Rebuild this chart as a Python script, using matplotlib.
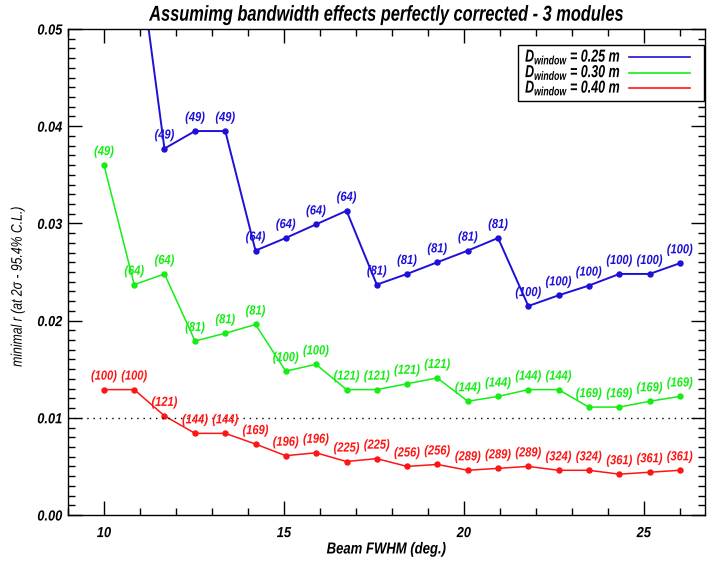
import matplotlib
matplotlib.use("Agg")
import matplotlib.pyplot as plt
from matplotlib.ticker import MultipleLocator
from matplotlib.patheffects import AbstractPathEffect
from matplotlib.transforms import Affine2D
from matplotlib.lines import Line2D
from matplotlib.patches import Rectangle

# Beam widths (deg.) at which the minimal r was computed
fwhm = [10.00, 10.84, 11.68, 12.53, 13.37, 14.21, 15.05, 15.89, 16.74, 17.58,
        18.42, 19.26, 20.11, 20.95, 21.79, 22.63, 23.47, 24.32, 25.16, 26.00]

# Minimal r at 2 sigma for each window diameter
r_025 = [0.0750, 0.0612, 0.0377, 0.0395, 0.0395, 0.0272, 0.0285, 0.0299, 0.0313, 0.0237,
         0.0248, 0.0260, 0.0272, 0.0285, 0.0215, 0.0226, 0.0236, 0.0248, 0.0248, 0.0259]
r_030 = [0.0360, 0.0237, 0.0248, 0.0179, 0.0187, 0.0196, 0.0148, 0.0155, 0.0129, 0.0129,
         0.0135, 0.0141, 0.0117, 0.0122, 0.0129, 0.0129, 0.0111, 0.0111, 0.0117, 0.0122]
r_040 = [0.0129, 0.0129, 0.0102, 0.0084, 0.0084, 0.0073, 0.0061, 0.0064, 0.0055, 0.0058,
         0.0050, 0.0052, 0.0046, 0.0048, 0.0050, 0.0046, 0.0046, 0.0042, 0.0044, 0.0046]

# Number of pixels quoted next to each point
n_025 = [25, 36, 49, 49, 49, 64, 64, 64, 64, 81, 81, 81, 81, 81, 100, 100, 100, 100, 100, 100]
n_030 = [49, 64, 64, 81, 81, 81, 100, 100, 121, 121, 121, 121, 144, 144, 144, 144, 169, 169, 169, 169]
n_040 = [100, 100, 121, 144, 144, 169, 196, 196, 225, 225, 256, 256, 289, 289, 289, 324, 324, 361, 361, 361]

windows = ["0.25", "0.30", "0.40"]
colors = ["#1f10d8", "#14ee14", "#ff1414"]

FAMILY = ["Liberation Sans", "DejaVu Sans"]
plt.rcParams.update({
    "font.family": FAMILY,
    "mathtext.fontset": "custom",
    "mathtext.rm": "Liberation Sans:italic:bold",
    "mathtext.it": "Liberation Sans:italic:bold",
    "mathtext.bf": "Liberation Sans:italic:bold",
})


class Narrow(AbstractPathEffect):
    """Draw glyphs compressed horizontally (narrow Helvetica look)."""

    def __init__(self, sx=0.8, anchor="center"):
        super().__init__()
        self.sx = sx
        self.anchor = anchor

    def draw_path(self, renderer, gc, tpath, affine, rgbFace=None):
        ext = tpath.get_extents()
        cx = {"left": ext.x0, "right": ext.x1}.get(self.anchor, 0.5 * (ext.x0 + ext.x1))
        squeeze = Affine2D().translate(-cx, 0).scale(self.sx, 1.0).translate(cx, 0)
        renderer.draw_path(gc, tpath, squeeze + affine, rgbFace)


fig = plt.figure(figsize=(7.09, 5.62), dpi=100)
AX_L, AX_R, AX_T, AX_B = 68, 705, 29, 515
ax = fig.add_axes([AX_L / 709, 1 - AX_B / 562, (AX_R - AX_L) / 709, (AX_B - AX_T) / 562])

series = [(r_025, n_025), (r_030, n_030), (r_040, n_040)]
for (vals, counts), c, lw in zip(series, colors, [1.4, 1.1, 1.1]):
    ax.plot(fwhm, vals, color=c, lw=lw, marker="o", ms=3.6, mec=c, mfc=c)
    for x, y, n in zip(fwhm, vals, counts):
        if y < 0.05:
            ax.annotate(f"({n})", (x, y), xytext=(0, 5.0), textcoords="offset points",
                        ha="center", va="bottom", color=c, fontsize=9.5,
                        fontstyle="italic", fontweight="bold",
                        path_effects=[Narrow(0.84, "center")])

ax.axhline(0.01, color="black", lw=1.0, ls=(0, (1, 3.5)))

ax.set_xlim(9, 26.7)
ax.set_ylim(0, 0.05)
ax.xaxis.set_major_locator(MultipleLocator(5))
ax.xaxis.set_minor_locator(MultipleLocator(1))
ax.yaxis.set_major_locator(MultipleLocator(0.01))
ax.yaxis.set_minor_locator(MultipleLocator(0.001))
ax.yaxis.set_major_formatter(lambda v, p: f"{v:.2f}")
ax.tick_params(which="both", direction="in", top=True, right=True, width=1.0)
ax.tick_params(which="major", length=10)
ax.tick_params(which="minor", length=5)
ax.tick_params(axis="x", which="major", pad=8)
ax.tick_params(axis="y", which="major", pad=4)
for lab in ax.get_xticklabels():
    lab.set(fontstyle="italic", fontweight="bold", fontsize=10.5,
            path_effects=[Narrow(0.88, "center")])
for lab in ax.get_yticklabels():
    lab.set(fontstyle="italic", fontweight="bold", fontsize=10.5,
            path_effects=[Narrow(0.88, "right")])
for s in ax.spines.values():
    s.set_linewidth(1.0)

ax.set_xlabel("Beam FWHM (deg.)", fontsize=11.5, fontstyle="italic", fontweight="bold",
              labelpad=1, path_effects=[Narrow(0.82, "center")])
ax.set_ylabel("minimal r (at 2σ - 95.4% C.L.)", fontsize=11, fontstyle="italic",
              path_effects=[Narrow(0.8, "center")])
ax.yaxis.set_label_coords(-0.068, 0.47)
ax.set_title("Assumimg bandwidth effects perfectly corrected - 3 modules",
             fontsize=15.5, fontstyle="italic", fontweight="bold", pad=6,
             path_effects=[Narrow(0.76, "center")])

# Legend panel: label on the left, line sample on the right
def ax_xy(px, py):
    return (px - AX_L) / (AX_R - AX_L), (AX_B - py) / (AX_B - AX_T)

x0, y0 = ax_xy(518, 101)
x1, y1 = ax_xy(704, 45)
ax.add_patch(Rectangle((x0, y0), x1 - x0, y1 - y0, transform=ax.transAxes,
                       facecolor="white", edgecolor="black", lw=1.0, zorder=5))
for w, c, py in zip(windows, colors, [57, 72.5, 88]):
    tx, ty = ax_xy(525, py)
    ax.text(tx, ty, r"$D_{\rm window}$" + f" = {w} m", transform=ax.transAxes,
            ha="left", va="center", fontsize=12.5, fontstyle="italic", fontweight="bold",
            zorder=6, path_effects=[Narrow(0.72, "left")])
    lx0, ly = ax_xy(629, py)
    lx1, _ = ax_xy(690, py)
    ax.add_line(Line2D([lx0, lx1], [ly, ly], transform=ax.transAxes, color=c, lw=1.2, zorder=6))

fig.savefig("out.png", dpi=100)
